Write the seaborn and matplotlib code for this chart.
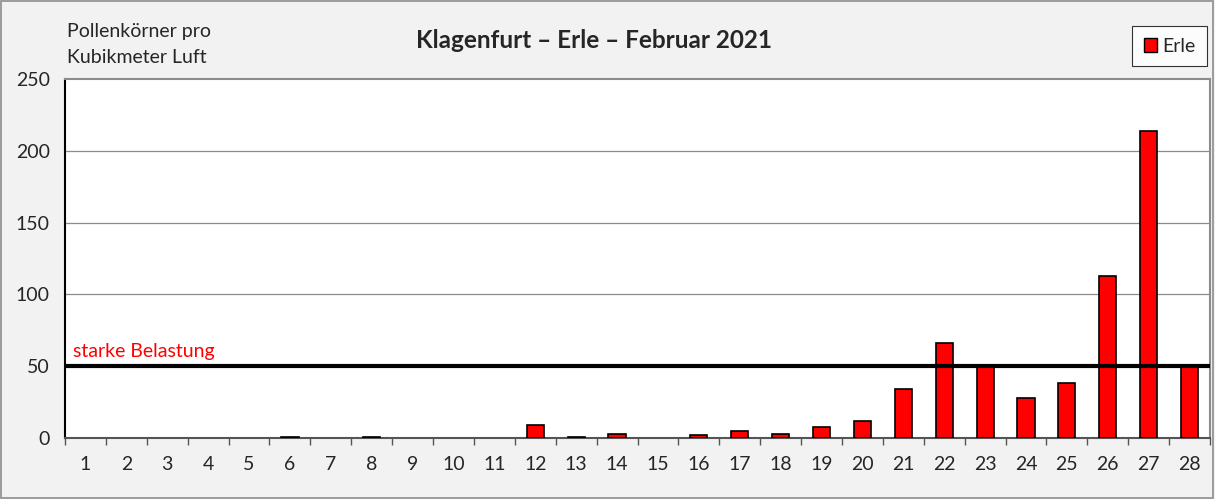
import matplotlib
matplotlib.use("Agg")
import matplotlib.pyplot as plt
import matplotlib.patches as mpatches
import numpy as np
import pandas as pd
import seaborn as sns

# ── data ──────────────────────────────────────────────────────────────────────
days = list(range(1, 29))
pollen = [0, 0, 0, 0, 0, 1, 0, 1, 0, 0, 0, 9, 1, 3, 0, 2, 5, 3, 8, 12,
          34, 66, 50, 28, 38, 113, 214, 50]
threshold = 50
y_ticks = [0, 50, 100, 150, 200, 250]

df = pd.DataFrame({"Tag": [str(d) for d in days], "Erle": pollen})

# ── style ─────────────────────────────────────────────────────────────────────
sns.set_theme(style="white")
plt.rcParams["font.family"] = ["Lato", "DejaVu Sans"]

fig = plt.figure(figsize=(12.15, 4.99), dpi=100, facecolor="#f2f2f2")
fig.patches.append(mpatches.Rectangle((0.001, 0.002), 0.997, 0.995,
                                      transform=fig.transFigure, fill=False,
                                      edgecolor="#8c8c8c", lw=1.2))
ax = fig.add_axes([0.0535, 0.1222, 0.9424, 0.7195])
ax.set_facecolor("white")

sns.barplot(data=df, x="Tag", y="Erle", color="#ff0000", width=0.42,
            edgecolor="black", linewidth=1.2, saturation=1, ax=ax, zorder=3)
# empty days show no outline
for bar in ax.patches:
    if bar.get_height() == 0:
        bar.set_linewidth(0)

ax.set_ylim(0, 250)
ax.set_xlim(-0.5, len(days) - 0.5)
ax.set_yticks(y_ticks)
for v in y_ticks[1:-1]:
    ax.axhline(v, color="#8c8c8c", lw=0.9, zorder=1)

ax.axhline(threshold, color="black", lw=3, zorder=4)
ax.text(-0.3, threshold + 4, "starke Belastung", color="#ff0000",
        fontsize=14, ha="left", va="bottom")

# x ticks between categories
ax.set_xticks(np.arange(len(days)))
ax.set_xticklabels(df["Tag"])
ax.set_xticks(np.arange(-0.5, len(days)), minor=True)
ax.tick_params(axis="x", which="major", length=0, pad=13, labelsize=14)
ax.tick_params(axis="x", which="minor", length=5, direction="out",
               color="#555555", width=1)
ax.tick_params(axis="y", length=5, direction="out", color="#555555",
               labelsize=14, pad=6)
ax.xaxis.set_tick_params(bottom=True, which="minor")

for side in ["top", "right"]:
    ax.spines[side].set_color("#8c8c8c")
    ax.spines[side].set_linewidth(1.5)
ax.spines["left"].set_color("black")
ax.spines["left"].set_linewidth(1.5)
ax.spines["bottom"].set_color("#555555")
ax.spines["bottom"].set_linewidth(1.5)

ax.set_xlabel("")
ax.set_ylabel("")

fig.text(0.0555, 0.937, "Pollenkörner pro", fontsize=14, ha="left", va="center")
fig.text(0.0555, 0.884, "Kubikmeter Luft", fontsize=14, ha="left", va="center")
fig.text(0.489, 0.918, "Klagenfurt – Erle – Februar 2021", fontsize=17.5,
         fontweight="bold", ha="center", va="center")

handle = mpatches.Patch(facecolor="#ff0000", edgecolor="black", label="Erle")
leg = fig.legend(handles=[handle], loc="upper right",
                 bbox_to_anchor=(0.9935, 0.948), fontsize=14, frameon=True,
                 fancybox=False, handlelength=0.7, handleheight=0.7,
                 handletextpad=0.25, borderpad=0.6, borderaxespad=0)
leg.get_frame().set_edgecolor("black")
leg.get_frame().set_linewidth(0.8)

fig.savefig("out.png", dpi=100, facecolor=fig.get_facecolor())
